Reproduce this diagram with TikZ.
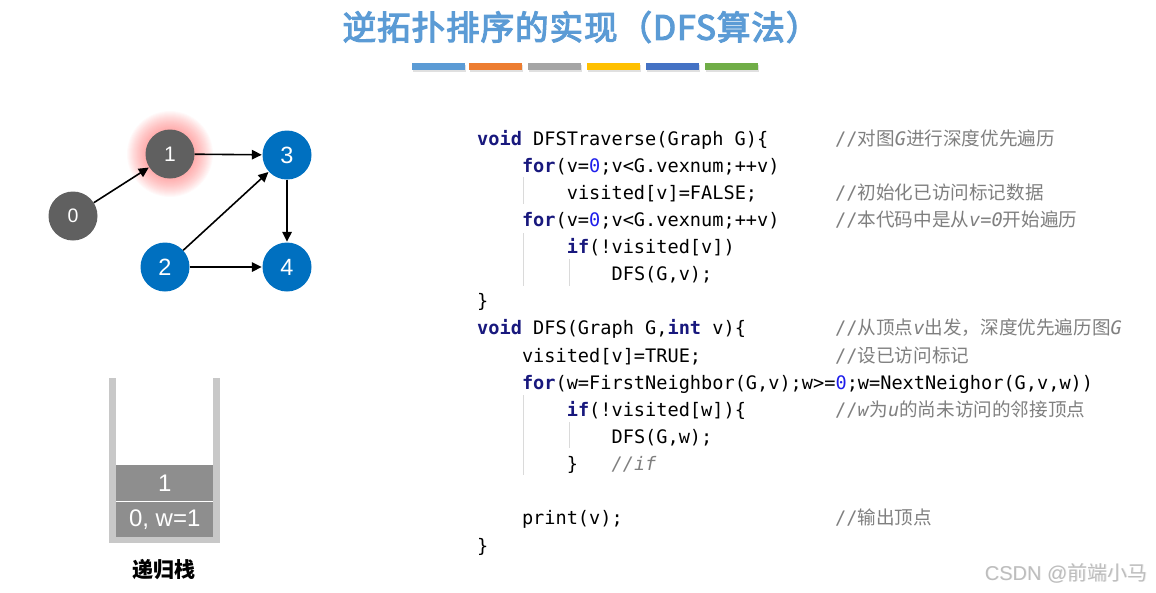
\documentclass[tikz,border=0pt]{standalone}
\usepackage{fontspec}
\setmainfont{Liberation Sans}
\newfontfamily\cjk{Noto Sans CJK SC}
\newfontfamily\cjktitle[FakeBold=3.5,LetterSpace=3]{Noto Sans CJK SC}
\newfontfamily\codefont[BoldFont={DejaVu Sans Mono Bold},ItalicFont={DejaVu Sans Mono Oblique}]{DejaVu Sans Mono}
\usetikzlibrary{arrows.meta}
\definecolor{titleblue}{HTML}{5B9BD5}
\definecolor{barA}{HTML}{5B9BD5}
\definecolor{barB}{HTML}{ED7D31}
\definecolor{barC}{HTML}{A5A5A5}
\definecolor{barD}{HTML}{FFC000}
\definecolor{barE}{HTML}{4472C4}
\definecolor{barF}{HTML}{70AD47}
\definecolor{nodegray}{HTML}{606060}
\definecolor{nodeblue}{HTML}{0070C0}
\definecolor{wallgray}{HTML}{C8C8C8}
\definecolor{boxgray}{HTML}{8E8E8E}
\definecolor{kwcol}{RGB}{24,24,125}
\definecolor{numcol}{RGB}{30,30,235}
\definecolor{cmtcol}{HTML}{7F7F7F}
\definecolor{guidecol}{HTML}{DADADA}
\definecolor{wmcol}{HTML}{BDBDBD}
\newcommand\kw[1]{{\bfseries\color{kwcol}#1}}
\newcommand\nm[1]{{\color{numcol}#1}}
\newcommand\zh[1]{{\cjk #1}}
\begin{document}
\begin{tikzpicture}[x=1pt,y=-1pt,
  vtx/.style={circle, minimum size=49pt, inner sep=0pt, text=white},
  arr/.style={line width=1.6pt, -{Triangle[length=10pt,width=9.5pt]}, shorten >=0.5pt},
  code/.style={anchor=base west, inner sep=0pt, font=\codefont\fontsize{18.6}{22}\selectfont},
  cmt/.style={code, text=cmtcol},
  guide/.style={draw=guidecol, line width=0.8pt},
  bar/.style={inner sep=0pt, minimum width=53pt, minimum height=6.5pt, anchor=north west},
  stackbox/.style={fill=boxgray, inner sep=0pt, minimum width=97pt, anchor=north west, text=white, font=\fontsize{24}{28}\selectfont}
]
\path[use as bounding box] (0,0) rectangle (1156,592);

% title
\node[text=titleblue, font=\cjktitle\fontsize{33.5}{38}\selectfont] (title) at (581,27) {逆拓扑排序的实现（DFS算法）};

% colour bars with shadow
\foreach \x/\c [count=\i] in {412/barA,469/barB,528/barC,587/barD,646/barE,705/barF}{
  \fill[black!12] (\x+1,65) rectangle ++(53,6.5);
  \node[bar, fill=\c] (bar\i) at (\x,63) {};
}

% glow for node 1
\foreach \r in {25,26,...,43}{
  \fill[red!70, opacity=0.032] (170,154) circle (\r);
}

% graph nodes
\node[vtx, fill=nodegray, font=\fontsize{19.5}{22}\selectfont] (n0) at (73,216) {0};
\node[vtx, fill=nodegray, font=\fontsize{21}{24}\selectfont] (n1) at (170,154) {1};
\node[vtx, fill=nodeblue, font=\fontsize{23.5}{26}\selectfont] (n3) at (287,155) {3};
\node[vtx, fill=nodeblue, font=\fontsize{23.5}{26}\selectfont] (n2) at (165,267) {2};
\node[vtx, fill=nodeblue, font=\fontsize{23.5}{26}\selectfont] (n4) at (287,267) {4};

\draw[arr] (n0) -- (n1);
\draw[arr] (n1) -- (n3);
\draw[arr] (n2) -- (n3);
\draw[arr] (n3) -- (n4);
\draw[arr] (n2) -- (n4);

% stack
\fill[wallgray] (109,378) rectangle (116,543);
\fill[wallgray] (213,378) rectangle (220,543);
\fill[wallgray] (116,537) rectangle (213,543);
\node[stackbox, minimum height=36pt] (s1) at (116,465) {1};
\node[stackbox, minimum height=34.5pt] (s0) at (116,502) {0, w=1};
\node[font=\cjk\bfseries\fontsize{21}{24}\selectfont] (stacklabel) at (164,570) {递归栈};

% code
\node[code] (c1) at (477,145) {\kw{void} DFSTraverse(Graph G)\{};
\node[code] (c2) at (521.8,172.1) {\kw{for}(v=\nm{0};v<G.vexnum;++v)};
\node[code] (c3) at (566.6,199.3) {visited[v]=FALSE;};
\node[code] (c4) at (521.8,226.4) {\kw{for}(v=\nm{0};v<G.vexnum;++v)};
\node[code] (c5) at (566.6,253.5) {\kw{if}(!visited[v])};
\node[code] (c6) at (611.4,280.7) {DFS(G,v);};
\node[code] (c7) at (477,307.8) {\}};
\node[code] (c8) at (477,334.9) {\kw{void} DFS(Graph G,\kw{int} v)\{};
\node[code] (c9) at (521.8,362) {visited[v]=TRUE;};
\node[code] (c10) at (521.8,389.2) {\kw{for}(w=FirstNeighbor(G,v);w>=\nm{0};w=NextNeighor(G,v,w))};
\node[code] (c11) at (566.6,416.3) {\kw{if}(!visited[w])\{};
\node[code] (c12) at (611.4,443.4) {DFS(G,w);};
\node[code] (c13) at (566.6,470.6) {\}};
\node[cmt] (c13b) at (611.4,470.6) {\textit{//if}};
\node[code] (c15) at (521.8,524.8) {print(v);};
\node[code] (c16) at (477,552) {\}};

% comments
\node[cmt] (m1) at (835,145) {//\zh{对图}\textit{G}\zh{进行深度优先遍历}};
\node[cmt] (m3) at (835,199.3) {//\zh{初始化已访问标记数据}};
\node[cmt] (m4) at (835,226.4) {//\zh{本代码中是从}\textit{v=0}\zh{开始遍历}};
\node[cmt] (m8) at (835,334.9) {//\zh{从顶点}\textit{v}\zh{出发，深度优先遍历图}\textit{G}};
\node[cmt] (m9) at (835,362) {//\zh{设已访问标记}};
\node[cmt] (m11) at (835,416.3) {//\textit{w}\zh{为}\textit{u}\zh{的尚未访问的邻接顶点}};
\node[cmt] (m15) at (835,524.8) {//\zh{输出顶点}};

% indent guides
\draw[guide] (523,177) -- (523,204);
\draw[guide] (523,233) -- (523,286);
\draw[guide] (569,259) -- (569,286);
\draw[guide] (523,395) -- (523,475);
\draw[guide] (569,422) -- (569,448);

% watermark
\node[text=black!8, font=\fontsize{20}{22}\selectfont, anchor=east] at (1151.7,573.7) {CSDN @{\cjk 前端小马}};
\node[text=wmcol, font=\fontsize{20}{22}\selectfont, anchor=east] (wm) at (1151,573) {CSDN @{\cjk 前端小马}};
\end{tikzpicture}
\end{document}
